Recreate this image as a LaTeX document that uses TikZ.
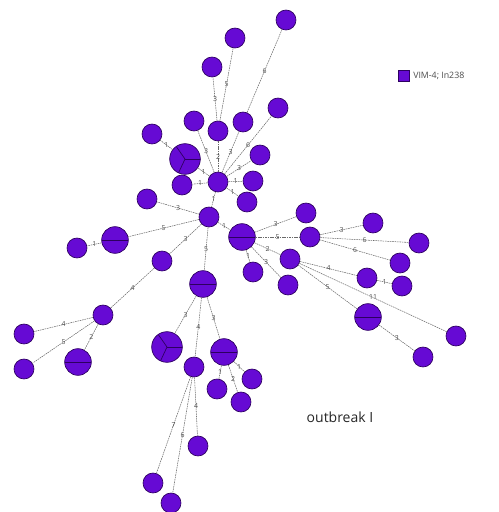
\documentclass[tikz,border=0pt]{standalone}
\usepackage{fontspec}
\setmainfont{Open Sans}
\definecolor{seqfill}{RGB}{102,10,212}
\definecolor{seqline}{RGB}{45,0,95}
\definecolor{linkcol}{RGB}{105,105,105}
\definecolor{numcol}{RGB}{80,80,80}
\tikzset{
  isolate/.style={circle,draw=seqline,fill=seqfill,line width=0.5pt,inner sep=0pt,minimum size=15pt},
  smallnode/.style={isolate},
  halfnode/.style={isolate,minimum size=20pt,
    path picture={\draw[seqline,line width=0.5pt] (path picture bounding box.west) -- (path picture bounding box.east);}},
  thirdnode/.style={isolate,minimum size=23pt,
    path picture={\foreach \a in {125,0,245}
      \draw[seqline,line width=0.5pt] (path picture bounding box.center) -- ++(\a:20pt);}},
  link/.style={draw=linkcol,line width=0.4pt,dash pattern=on 1.2pt off 0.6pt},
  num/.style={font=\fontsize{5.2}{6}\selectfont,text=numcol,inner sep=0.4pt},
  legsq/.style={draw=seqline,fill=seqfill,line width=0.4pt,minimum size=8pt,inner sep=0pt}
}
\begin{document}
\begin{tikzpicture}[x=0.75pt,y=-0.75pt]
\useasboundingbox (0,0) rectangle (499,512);

% upper cluster
\node[smallnode] (A1) at (286,20) {};
\node[smallnode] (A2) at (235,38) {};
\node[smallnode] (A3) at (212,67) {};
\node[smallnode] (A4) at (278,108) {};
\node[smallnode] (A5) at (152,134) {};
\node[smallnode] (A6) at (194,121) {};
\node[smallnode] (A7) at (218,131) {};
\node[smallnode] (A8) at (243,122) {};
\node[smallnode] (A9) at (260,155) {};
\node[thirdnode] (T3) at (185,159) {};
\node[smallnode] (H1) at (218,182) {};
\node[smallnode] (B1) at (182,185) {};
\node[smallnode] (B2) at (253,181) {};
\node[smallnode] (B3) at (247,202) {};

% central hub and left branch
\node[smallnode] (H2) at (209,217) {};
\node[smallnode] (C1) at (147,199) {};
\node[smallnode] (C2) at (77,248) {};
\node[halfnode]  (M1) at (115,240) {};
\node[smallnode] (C3) at (162,261) {};
\node[halfnode]  (D1) at (203,284) {};

% right branch
\node[halfnode]  (R)  at (242,237) {};
\node[smallnode] (E1) at (253,272) {};
\node[smallnode] (E2) at (288,285) {};
\node[smallnode] (G1) at (306,213) {};
\node[smallnode] (G2) at (310,237) {};
\node[smallnode] (G3) at (290,259) {};
\node[smallnode] (G4) at (373,223) {};
\node[smallnode] (G5) at (419,243) {};
\node[smallnode] (G6) at (400,263) {};
\node[smallnode] (G7) at (367,278) {};
\node[smallnode] (G8) at (402,286) {};
\node[halfnode]  (M4) at (368,317) {};
\node[smallnode] (G9) at (456,336) {};
\node[smallnode] (G10) at (423,357) {};

% lower left branch
\node[smallnode] (F1) at (103,315) {};
\node[smallnode] (L1) at (24,334) {};
\node[smallnode] (L2) at (24,369) {};
\node[halfnode]  (M5) at (78,362) {};

% lower branch
\node[thirdnode] (T3b) at (167,347) {};
\node[smallnode] (J1) at (194,367) {};
\node[halfnode]  (M6) at (224,352) {};
\node[smallnode] (K1) at (217,389) {};
\node[smallnode] (K2) at (241,402) {};
\node[smallnode] (K3) at (252,379) {};
\node[smallnode] (J2) at (198,446) {};
\node[smallnode] (J3) at (153,483) {};
\node[smallnode] (J4) at (171,503) {};

% links with allele distances
\foreach \a/\b/\d in {
  H1/A7/2, H1/A6/3, H1/A8/3, H1/A4/6, H1/A9/3, H1/B2/1, H1/B3/1, H1/B1/1, H1/T3/1, H1/H2/1,
  A7/A3/3, A7/A2/5, A8/A1/6, T3/A5/1,
  H2/C1/3, H2/M1/5, H2/C3/3, H2/D1/5, H2/R/1,
  M1/C2/1, C3/F1/4,
  R/G1/3, R/G2/5, R/G3/2, R/E1/1, R/E2/3,
  G2/G4/3, G2/G5/6, G2/G6/6,
  G3/G7/4, G7/G8/1, G3/M4/5, G3/G9/11, M4/G10/3,
  F1/L1/4, F1/L2/5, F1/M5/2,
  D1/T3b/3, D1/J1/4, D1/M6/3,
  M6/K1/1, M6/K2/2, M6/K3/1,
  J1/J2/4, J1/J3/7, J1/J4/6}
  \draw[link] (\a) -- node[num] {\d} (\b);

% legend
\node[legsq] (key) at (404,76) {};
\node[anchor=west,font=\fontsize{6.6}{8}\selectfont,text=black!70,inner sep=0pt] (keytext) at (413,76) {VIM-4; In238};

% caption
\node[font=\fontsize{10.5}{12}\selectfont,text=black!85] (caption) at (340,417) {outbreak I};
\end{tikzpicture}
\end{document}
